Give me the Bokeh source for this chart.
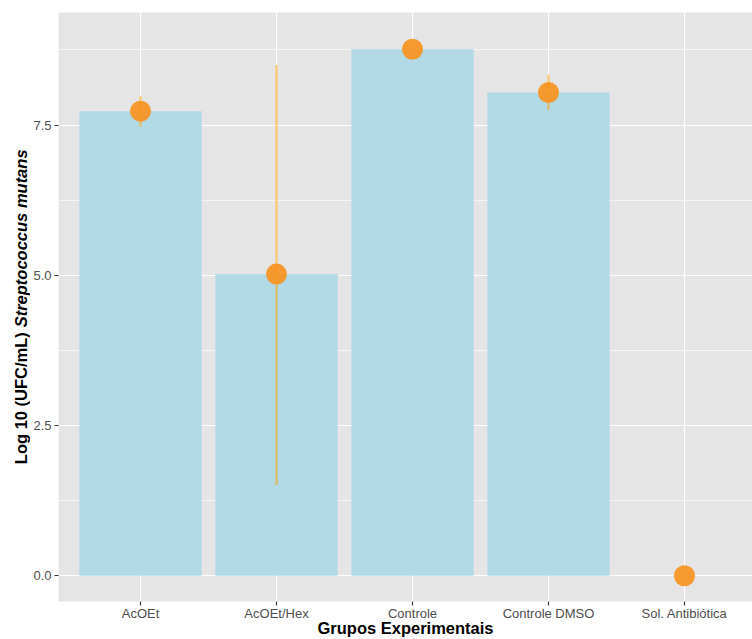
import math
from bokeh.plotting import figure
from bokeh.layouts import row
from bokeh.models import Range1d, FixedTicker, ColumnDataSource, NumeralTickFormatter
from bokeh.core.properties import value
from bokeh.embed import file_html
from bokeh.resources import INLINE

# ---- data ----
groups = ["AcOEt", "AcOEt/Hex", "Controle", "Controle DMSO", "Sol. Antibiótica"]
means = [7.73, 5.02, 8.76, 8.04, 0.0]
lower = [7.47, 1.51, 8.76, 7.75, 0.0]
upper = [7.98, 8.50, 8.76, 8.34, 0.0]
y_ticks = [0.0, 2.5, 5.0, 7.5]
y_minor = [1.25, 3.75, 6.25, 8.75]
x_title = "Grupos Experimentais"
y_title_plain = "Log 10 (UFC/mL)"
y_title_italic = "Streptococcus mutans"

FONT = "Liberation Sans"
TITLE_SIZE = 16.5
xs = list(range(1, len(groups) + 1))
src = ColumnDataSource(dict(x=xs, mean=means, lo=lower, hi=upper))

PPU_Y = 60.0          # pixels per y unit
FRAME_H = 588         # frame height left after axes
Y1 = 9.372
Y0 = Y1 - FRAME_H / PPU_Y
X0, X1 = 0.397, 5.5

H = 639
yr = Range1d(Y0, Y1)
p = figure(width=722, height=H, output_backend="svg", toolbar_location=None,
           x_range=Range1d(X0, X1), y_range=yr,
           min_border_left=28, min_border_top=12, min_border_right=0, min_border_bottom=38)
p.background_fill_color = "#E5E5E5"
p.border_fill_color = "white"
p.outline_line_color = None

# grid
p.xgrid.ticker = FixedTicker(ticks=xs)
p.ygrid.ticker = FixedTicker(ticks=y_ticks, minor_ticks=y_minor)
for g in (p.xgrid, p.ygrid):
    g.grid_line_color = "white"
    g.grid_line_width = 1.2
p.ygrid.minor_grid_line_color = "white"
p.ygrid.minor_grid_line_width = 0.6

# axes
p.xaxis.ticker = FixedTicker(ticks=xs)
p.xaxis.major_label_overrides = {x: g for x, g in zip(xs, groups)}
p.yaxis.ticker = FixedTicker(ticks=y_ticks)
p.yaxis.formatter = NumeralTickFormatter(format="0.0")
for ax in (p.xaxis, p.yaxis):
    ax.axis_line_color = None
    ax.major_tick_line_color = "#333333"
    ax.major_tick_line_width = 1.1
    ax.major_tick_in = 0
    ax.major_tick_out = 4
    ax.minor_tick_line_color = None
    ax.major_label_text_font = FONT
    ax.major_label_text_font_size = "13px"
    ax.major_label_text_color = "#4D4D4D"
p.yaxis.major_label_standoff = 3
p.xaxis.major_label_standoff = 0
p.xaxis.axis_label = x_title
p.xaxis.axis_label_standoff = -5
p.xaxis.axis_label_text_font = FONT
p.xaxis.axis_label_text_font_size = f"{TITLE_SIZE}px"
p.xaxis.axis_label_text_font_style = "bold"
p.xaxis.axis_label_text_color = "black"

# bars
p.vbar(x="x", top="mean", bottom=0, width=0.9, source=src,
       fill_color="#ADD8E6", fill_alpha=0.92, line_color=None)
# error bars
p.segment(x0="x", y0="lo", x1="x", y1="hi", source=src,
          line_color="orange", line_alpha=0.6, line_width=2)
# points
p.scatter(x="x", y="mean", source=src, size=21, marker="circle",
          fill_color="#F7931E", fill_alpha=0.92, line_color=None)

# ---- y axis title strip (shares the main y range; frames are aligned in a row) ----
lp = figure(width=30, height=H, output_backend="svg", toolbar_location=None,
            x_range=Range1d(0, 30), y_range=yr,
            x_axis_type=None, y_axis_type=None,
            min_border_left=0, min_border_right=0, min_border_top=12, min_border_bottom=38)
lp.grid.visible = False
lp.outline_line_color = None
lp.background_fill_color = "white"
lp.border_fill_color = "white"
# text widths (Liberation Sans Bold, em units) for placing the two parts inline
w_plain = 8.0 * TITLE_SIZE / PPU_Y
w_space = 0.278 * TITLE_SIZE / PPU_Y
w_ital = 10.78 * TITLE_SIZE / PPU_Y
start = 1.855
c1 = start + w_plain / 2
c2 = start + w_plain + w_space + w_ital / 2
for txt, c, style in ((y_title_plain, c1, "bold"), (y_title_italic, c2, "bold italic")):
    lp.text(x=[20], y=[c], text=[txt], angle=math.pi / 2,
            text_align="center", text_baseline="middle", text_font=value(FONT),
            text_font_size=value(f"{TITLE_SIZE}px"), text_font_style=value(style),
            text_color="black")

layout = row(lp, p, spacing=0)
open("out.html", "w").write(file_html(layout, INLINE))
